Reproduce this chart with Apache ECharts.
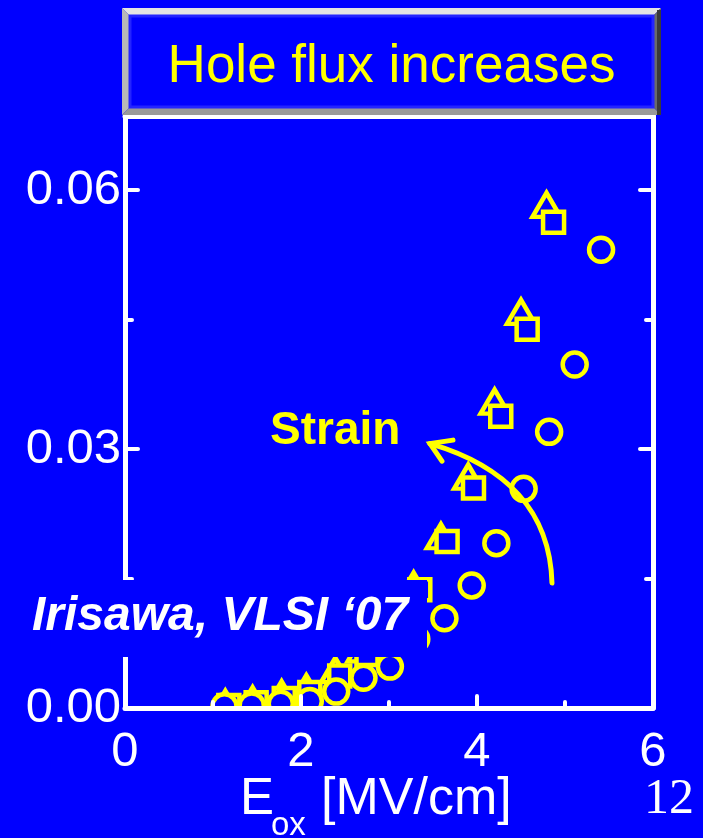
<!DOCTYPE html>
<html>
<head>
<meta charset="utf-8">
<script src="https://cdn.jsdelivr.net/npm/echarts@6/dist/echarts.min.js"></script>
<style>
  html, body { margin: 0; padding: 0; background: #0000ff; }
  #chart { width: 703px; height: 838px; }
</style>
</head>
<body>
<div id="chart"></div>
<script>
// Hole flux vs. oxide field, three device variants (triangle / square / circle)
const triX = [1.14, 1.45, 1.78, 2.06, 2.39, 2.69, 2.99, 3.28, 3.59, 3.90, 4.20, 4.50, 4.79];
const triY = [0.0006, 0.0010, 0.0017, 0.0024, 0.0044, 0.0068, 0.0100, 0.0143, 0.0199, 0.0268, 0.0355, 0.0459, 0.0583];

const sqX = [1.18, 1.49, 1.81, 2.10, 2.44, 2.75, 3.05, 3.35, 3.66, 3.96, 4.27, 4.57, 4.87];
const sqY = [0.0003, 0.0006, 0.0011, 0.0018, 0.0037, 0.0062, 0.0097, 0.0137, 0.0193, 0.0255, 0.0338, 0.0439, 0.0563];

const circX = [1.13, 1.44, 1.77, 2.10, 2.40, 2.71, 3.01, 3.31, 3.63, 3.94, 4.22, 4.53, 4.82, 5.11, 5.41];
const circY = [0.0002, 0.0003, 0.0005, 0.0008, 0.0019, 0.0035, 0.0048, 0.0080, 0.0104, 0.0142, 0.0191, 0.0254, 0.0320, 0.0398, 0.0531];

// Axis ranges and tick labels
const xRange = [0, 6];
const yRange = [0, 0.0686];
const xTickLabels = [0, 2, 4, 6];
const yTickLabels = [0, 0.03, 0.06];

// "Strain" arrow, in data units: cubic curve control points and the open head
const arrowCurve = [[4.852, 0.01448], [4.830, 0.0229], [4.318, 0.02809], [3.466, 0.03064]];
const arrowHead = [[3.727, 0.03104], [3.466, 0.03064], [3.602, 0.02861]];

const BLUE = '#0000ff';
const YELLOW = '#ffff00';
const WHITE = '#ffffff';
const SANS = '"Liberation Sans", Arial, Helvetica, sans-serif';
const SERIF = '"Liberation Serif", "Times New Roman", serif';

const zip = (xs, ys) => xs.map((x, i) => [x, ys[i]]);
const isLabelled = (list, v) => list.some(t => Math.abs(t - v) < 1e-9);

const chart = echarts.init(document.getElementById('chart'), null, { renderer: 'canvas', width: 703, height: 838 });

const lineStyle = { color: WHITE, width: 5 };
const tickStyle = { color: WHITE, width: 4, cap: 'round' };

function xAxisDef(position, interval, tickLen, withLine, withLabels) {
  return {
    type: 'value', gridIndex: 0, position: position,
    min: xRange[0], max: xRange[1], interval: interval,
    axisLine: { show: withLine, onZero: false, lineStyle: lineStyle },
    axisTick: { show: tickLen > 0, inside: true, length: tickLen, lineStyle: tickStyle },
    axisLabel: {
      show: withLabels, margin: 20, color: WHITE, fontSize: 49, fontFamily: SANS,
      formatter: v => isLabelled(xTickLabels, v) ? String(Math.round(v)) : ''
    },
    splitLine: { show: false },
    z: 4
  };
}

function yAxisDef(position, interval, tickLen, withLine, withLabels) {
  return {
    type: 'value', gridIndex: 0, position: position,
    min: yRange[0], max: yRange[1], interval: interval,
    axisLine: { show: withLine, onZero: false, lineStyle: lineStyle },
    axisTick: { show: true, inside: true, length: tickLen, lineStyle: tickStyle },
    axisLabel: {
      show: withLabels, margin: 4, color: WHITE, fontSize: 49, fontFamily: SANS,
      formatter: v => isLabelled(yTickLabels, v) ? v.toFixed(2) : ''
    },
    splitLine: { show: false },
    z: 4
  };
}

function markerSeries(name, symbol, size, data) {
  return {
    name: name, type: 'scatter', xAxisIndex: 0, yAxisIndex: 0,
    symbol: symbol, symbolSize: size, data: data,
    itemStyle: { color: BLUE, borderColor: YELLOW, borderWidth: 4.5, opacity: 1 },
    emphasis: { disabled: true },
    z: 2
  };
}

chart.setOption({
  backgroundColor: BLUE,
  animation: false,
  grid: { left: 125, right: 50, top: 116, bottom: 130, containLabel: false },
  xAxis: [
    xAxisDef('bottom', 1, 6, true, true),
    xAxisDef('bottom', 2, 12, false, false),
    xAxisDef('top', 1, 0, true, false)
  ],
  yAxis: [
    yAxisDef('left', 0.015, 7, true, true),
    yAxisDef('left', 0.03, 13, false, false),
    yAxisDef('right', 0.015, 7, true, false),
    yAxisDef('right', 0.03, 13, false, false)
  ],
  series: [
    markerSeries('triangle', 'triangle', [28, 24], zip(triX, triY)),
    markerSeries('square', 'rect', [21, 21], zip(sqX, sqY)),
    markerSeries('circle', 'circle', 24, zip(circX, circY))
  ]
});

// Annotations placed after layout so they follow the axes
const px = p => chart.convertToPixel({ gridIndex: 0 }, p);
const c = arrowCurve.map(px);
const head = arrowHead.map(px);
const origin = px([xRange[0], yRange[0]]);
const far = px([xRange[1], yRange[1]]);

function txt(text, x, y, font, fill, align) {
  return {
    type: 'text', z: 20, x: x, y: y,
    style: {
      text: text, fill: fill, font: font,
      align: align, textAlign: align,
      verticalAlign: 'middle', textVerticalAlign: 'middle'
    }
  };
}

// Bevelled title panel
const X0 = 122, X1 = 661, Y0 = 8, Y1 = 115, B = 8;
const panel = [
  { type: 'polygon', z: 10, shape: { points: [[X0, Y0], [X1, Y0], [X1 - B, Y0 + B], [X0 + B, Y0 + B]] }, style: { fill: '#e4e4e4' } },
  { type: 'polygon', z: 10, shape: { points: [[X0, Y0], [X0 + B, Y0 + B], [X0 + B, Y1 - B], [X0, Y1]] }, style: { fill: '#b8b8b8' } },
  { type: 'polygon', z: 10, shape: { points: [[X1, Y0], [X1, Y1], [X1 - B, Y1 - B], [X1 - B, Y0 + B]] }, style: { fill: '#6a6a6a' } },
  { type: 'polygon', z: 10, shape: { points: [[X0, Y1], [X0 + B, Y1 - B], [X1 - B, Y1 - B], [X1, Y1]] }, style: { fill: '#9a9a9a' } },
  { type: 'rect', z: 10, shape: { x: X1 - 4, y: Y0 + 2, width: 4, height: Y1 - Y0 - 2 }, style: { fill: '#3a3a3a' } },
  { type: 'rect', z: 11, shape: { x: X0 + B, y: Y0 + B, width: X1 - X0 - 2 * B, height: Y1 - Y0 - 2 * B },
    style: { fill: BLUE, stroke: '#2424ff', lineWidth: 3 } },
  txt('Hole flux increases', (X0 + X1) / 2, 67, '53px ' + SANS, YELLOW, 'center')
];

chart.setOption({
  graphic: [
    // keeps markers from showing below the x axis line
    { type: 'rect', z: 3, shape: { x: origin[0] - 20, y: origin[1] + 2, width: far[0] - origin[0] + 40, height: 18 }, style: { fill: BLUE } },
    // Strain arrow
    { type: 'bezierCurve', z: 8,
      shape: { x1: c[0][0], y1: c[0][1], cpx1: c[1][0], cpy1: c[1][1], cpx2: c[2][0], cpy2: c[2][1], x2: c[3][0], y2: c[3][1] },
      style: { stroke: YELLOW, lineWidth: 5, fill: null, lineCap: 'round' } },
    { type: 'polyline', z: 8, shape: { points: head },
      style: { stroke: YELLOW, lineWidth: 5, fill: null, lineCap: 'round', lineJoin: 'miter' } },
    txt('Strain', 270, 431, 'bold 46px ' + SANS, YELLOW, 'left'),
    // citation panel
    { type: 'rect', z: 12, shape: { x: 0, y: 580, width: 427, height: 77 }, style: { fill: BLUE } },
    txt('Irisawa, VLSI \u201807', 32, 617, 'italic bold 48px ' + SANS, WHITE, 'left'),
    // x axis title
    txt('E', 240, 800, '51px ' + SANS, WHITE, 'left'),
    txt('ox', 271, 826, '33px ' + SANS, WHITE, 'left'),
    txt('[MV/cm]', 321, 800, '52px ' + SANS, WHITE, 'left'),
    // page number
    txt('12', 669, 800, '50px ' + SERIF, WHITE, 'center')
  ].concat(panel)
});
</script>
</body>
</html>
